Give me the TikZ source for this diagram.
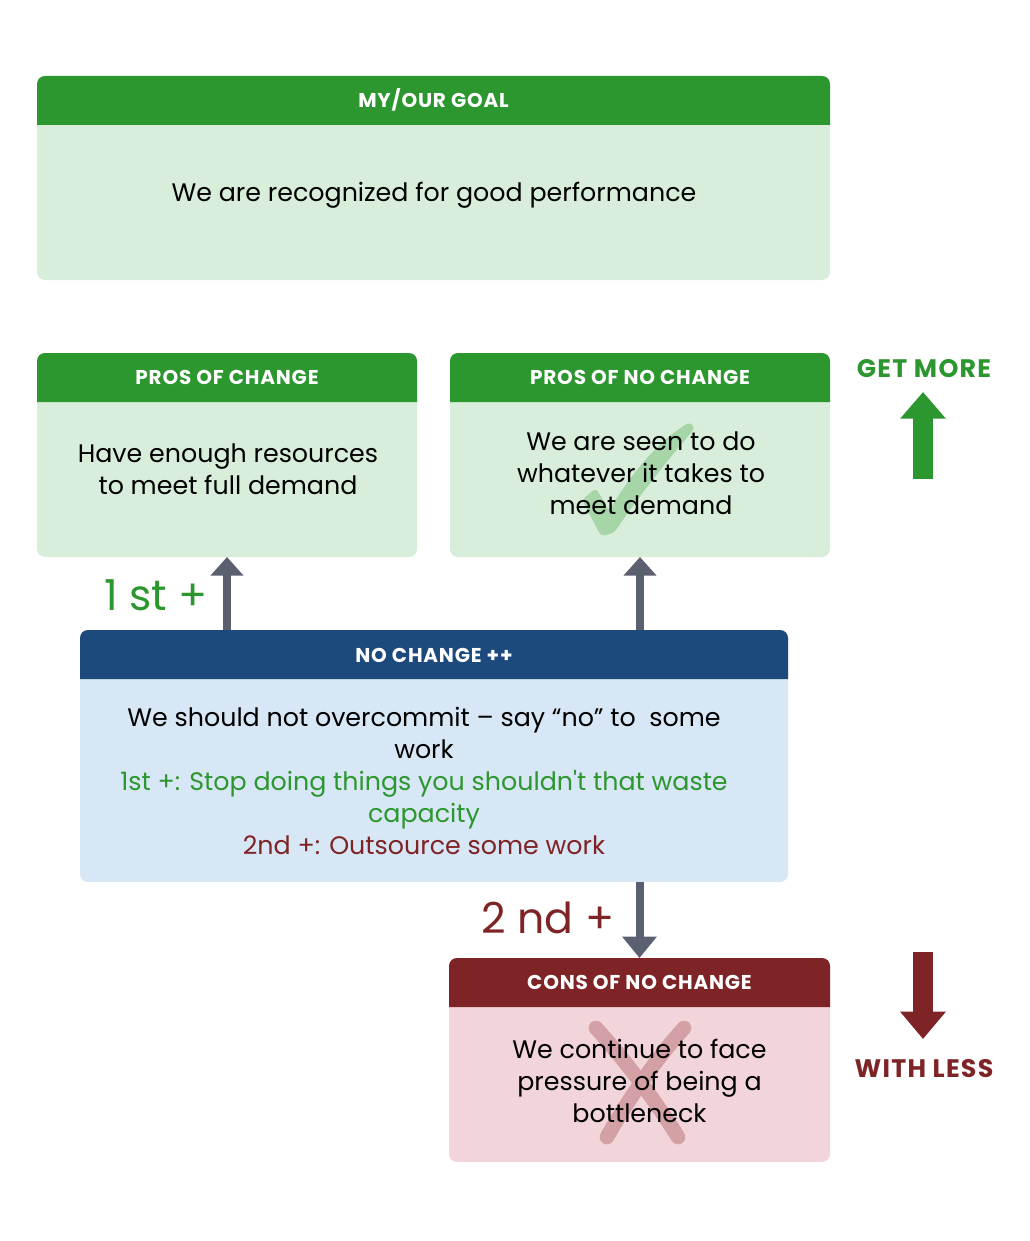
\documentclass[tikz,border=0pt]{standalone}
\usepackage{fontspec}
\setmainfont{Poppins}[Ligatures=TeXOff]
\usetikzlibrary{arrows.meta}
\definecolor{hgreen}{HTML}{2C962F}
\definecolor{lgreen}{HTML}{D8EEDA}
\definecolor{hblue}{HTML}{1D4A7C}
\definecolor{lblue}{HTML}{D7E7F5}
\definecolor{hred}{HTML}{7E2426}
\definecolor{lpink}{HTML}{F2D5DA}
\definecolor{gconn}{HTML}{5A6070}
\definecolor{checkc}{HTML}{A6D6A8}
\definecolor{crossc}{HTML}{D3A0A5}
\begin{document}
\begin{tikzpicture}[x=0.75pt,y=-0.75pt,
  panel/.style={rectangle, rounded corners=6pt, inner sep=0pt, outer sep=0pt},
  hdrtext/.style={font=\bfseries\fontsize{15}{17}\selectfont\addfontfeature{LetterSpace=4}, text=white, inner sep=0pt},
  bodytext/.style={font=\fontsize{19}{24}\selectfont, align=center, inner sep=0pt, text=black},
  conn/.style={draw=gconn, line width=6pt, -{Triangle[width=24pt,length=14pt]}},
  bigtext/.style={font=\fontsize{32}{36}\selectfont, inner sep=0pt},
  sidetext/.style={font=\bfseries\fontsize{19}{21}\selectfont\addfontfeature{LetterSpace=5}, inner sep=0pt}
]
\useasboundingbox (0,0) rectangle (1029,1241);

% panels
\node[panel, fill=lgreen, minimum width=594.75pt, minimum height=153pt] (goal) at (433.5,178) {};
\node[panel, fill=lgreen, minimum width=285pt, minimum height=153pt] (pc) at (227,455) {};
\node[panel, fill=lgreen, minimum width=285pt, minimum height=153pt] (pnc) at (640,455) {};
\node[panel, fill=lblue, minimum width=531pt, minimum height=189pt] (nc) at (434,756) {};
\node[panel, fill=lpink, minimum width=285.75pt, minimum height=153pt] (cons) at (639.5,1060) {};

% headers
\fill[hgreen] ([yshift=-36.75pt]goal.north west) [rounded corners=6pt] -- (goal.north west) -- (goal.north east) [sharp corners] -- ([yshift=-36.75pt]goal.north east) -- cycle;
\fill[hgreen] ([yshift=-36.75pt]pc.north west) [rounded corners=6pt] -- (pc.north west) -- (pc.north east) [sharp corners] -- ([yshift=-36.75pt]pc.north east) -- cycle;
\fill[hgreen] ([yshift=-36.75pt]pnc.north west) [rounded corners=6pt] -- (pnc.north west) -- (pnc.north east) [sharp corners] -- ([yshift=-36.75pt]pnc.north east) -- cycle;
\fill[hblue] ([yshift=-36.75pt]nc.north west) [rounded corners=6pt] -- (nc.north west) -- (nc.north east) [sharp corners] -- ([yshift=-36.75pt]nc.north east) -- cycle;
\fill[hred] ([yshift=-36.75pt]cons.north west) [rounded corners=6pt] -- (cons.north west) -- (cons.north east) [sharp corners] -- ([yshift=-36.75pt]cons.north east) -- cycle;

\node[hdrtext] (goalh) at (433.5,100) {MY/OUR GOAL};
\node[hdrtext] (pch) at (227,377) {PROS OF CHANGE};
\node[hdrtext] (pnch) at (640,377) {PROS OF NO CHANGE};
\node[hdrtext] (nch) at (434,655) {NO CHANGE ++};
\node[hdrtext] (consh) at (639.5,982) {CONS OF NO CHANGE};

% check mark and cross (behind text)
\fill[checkc, rounded corners=3pt] (582,500) -- (596,488) -- (609,511) .. controls (632,472) and (660,440) .. (690,422) -- (695,428) .. controls (666,462) and (636,500) .. (614,533) -- (601,536) -- cycle;
\draw[crossc, line width=11pt, line cap=round] (596,1028) .. controls (625,1060) and (655,1100) .. (678,1137);
\draw[crossc, line width=11pt, line cap=round] (684,1028) .. controls (655,1060) and (628,1100) .. (607,1137);

% body texts
\node[bodytext] (goalt) at (434,195) {We are recognized for good performance};
\node[bodytext] (pct) at (228,469) {Have enough resources\\to meet full demand};
\node[bodytext] (pnct) at (641,473) {We are seen to do\\whatever it takes to\\meet demand};
\node[bodytext] (nct) at (424,781) {We should not overcommit – say “no” to\ \ some\\work\\\textcolor{hgreen}{1st +: Stop doing things you shouldn't that waste}\\\textcolor{hgreen}{capacity}\\\textcolor{hred}{2nd +: Outsource some work}};
\node[bodytext] (const) at (639.5,1081) {We continue to face\\pressure of being a\\bottleneck};

% connectors
\draw[conn] (nc.north -| pc.south) -- (pc.south);
\draw[conn] (nc.north -| pnc.south) -- (pnc.south);
\draw[draw=gconn, line width=6pt, -{Triangle[width=25pt,length=16pt]}] (nc.south -| cons.north) -- (cons.north);

\node[bigtext, text=hgreen] (first) at (156,595) {1 st +};
\node[bigtext, text=hred] (second) at (548,918) {2 nd +};

% side arrows
\node[sidetext, text=hgreen] (getmore) at (924,369) {GET MORE};
\node[sidetext, text=hred] (withless) at (924,1069) {WITH LESS};
\coordinate (gb) at (923,479);
\coordinate (gt) at (923,392);
\coordinate (rt) at (923,952);
\coordinate (rb) at (923,1039);
\draw[hgreen, line width=15pt, -{Triangle[width=33pt,length=20pt]}] (gb) -- (gt);
\draw[hred, line width=15pt, -{Triangle[width=33pt,length=20.5pt]}] (rt) -- (rb);
\end{tikzpicture}
\end{document}
